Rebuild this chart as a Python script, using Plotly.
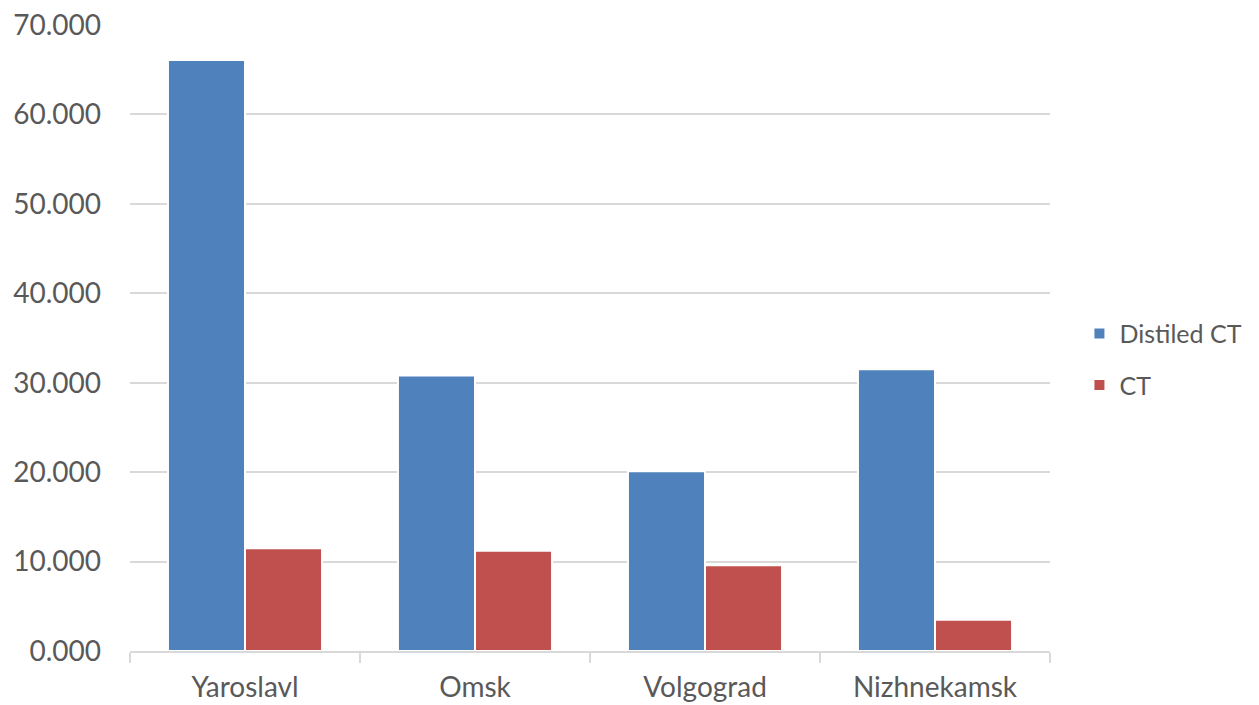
import plotly.graph_objects as go

categories = ["Yaroslavl", "Omsk", "Volgograd", "Nizhnekamsk"]
distiled_ct = [66.1, 30.8, 20.1, 31.5]
ct = [11.5, 11.2, 9.6, 3.5]
y_ticks = [0, 10, 20, 30, 40, 50, 60, 70]

font = "Lato, Open Sans, sans-serif"
txt = "#595959"

fig = go.Figure()
fig.add_trace(go.Bar(x=categories, y=distiled_ct, name="Distiled CT", legendgroup="a",
                     marker=dict(color="#4F81BD", line=dict(color="white", width=2))))
fig.add_trace(go.Bar(x=categories, y=ct, name="CT", legendgroup="b",
                     marker=dict(color="#C0504D", line=dict(color="white", width=2))))

fig.update_layout(
    width=1259, height=705,
    margin=dict(l=130, r=209, t=25, b=54, autoexpand=False),
    paper_bgcolor="white", plot_bgcolor="white",
    barmode="group", bargap=0.33, bargroupgap=0.0,
    font=dict(family=font, size=28, color=txt),
    legend=dict(x=1.032, y=0.466, xanchor="left", yanchor="middle",
                font=dict(size=25, color=txt), tracegroupgap=16),
    showlegend=True,
)
fig.update_yaxes(range=[0, 70], tickvals=y_ticks, tickformat=".3f",
                 showgrid=True, gridcolor="#D9D9D9", gridwidth=1.5,
                 zeroline=False, showline=False, ticks="", automargin=False,
                 ticklabelstandoff=28, tickfont=dict(size=28, color=txt))
fig.update_xaxes(showline=True, linecolor="#D9D9D9", linewidth=1.5,
                 ticks="outside", tickson="boundaries", ticklen=10,
                 tickcolor="#D9D9D9", tickwidth=1.5, automargin=False,
                 ticklabelstandoff=11, tickfont=dict(size=28, color=txt))

fig.write_html("out.html", config={"displayModeBar": False},
               post_script="document.body.style.margin='0';document.body.style.overflow='hidden';")
